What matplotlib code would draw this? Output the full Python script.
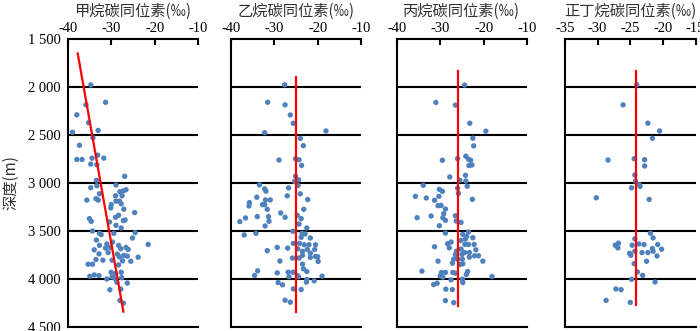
import matplotlib
matplotlib.use('Agg')
import matplotlib.pyplot as plt

plt.rcParams['font.family'] = ['Liberation Serif', 'Noto Sans CJK SC', 'DejaVu Sans']

# ---- data ----
TITLES = ['甲烷碳同位素(‰)', '乙烷碳同位素(‰)', '丙烷碳同位素(‰)', '正丁烷碳同位素(‰)']
Y_LABEL = '深度(m)'
DEPTH_TICKS = [1500, 2000, 2500, 3000, 3500, 4000, 4500]
DEPTH_LABELS = ['1 500', '2 000', '2 500', '3 000', '3 500', '4 000', '4 500']
X_TICKS = [[-40, -30, -20, -10], [-40, -30, -20, -10],
           [-40, -30, -20, -10], [-35, -30, -25, -20, -15]]

CH4_X = [-34.7, -31.3, -35.8, -37.9, -35.2, -33.0, -38.9, -34.2, -37.3, -33.1,
         -37.9, -36.7, -34.4, -31.7, -34.7, -33.3, -26.9, -33.4, -28.9, -34.7,
         -33.3, -26.6, -27.3, -28.0, -32.7, -29.0, -27.5, -35.6, -33.5, -33.0,
         -28.9, -28.1, -30.0, -27.7, -30.1, -27.1, -24.6, -28.3, -29.0, -27.2,
         -26.8, -35.0, -34.6, -30.4, -28.9, -27.7, -34.3, -32.7, -32.3, -29.4,
         -24.5, -33.4, -25.1, -31.0, -29.7, -21.5, -32.7, -31.3, -30.2, -28.3,
         -27.8, -26.6, -26.1, -33.9, -32.8, -30.7, -28.6, -28.1, -27.1, -26.3,
         -23.8, -33.5, -31.9, -29.8, -27.4, -25.5, -35.3, -34.3, -28.3, -34.9,
         -33.9, -32.8, -30.0, -29.0, -27.7, -29.8, -31.0, -29.0, -27.6, -28.7,
         -26.3, -30.3, -27.8, -28.0, -27.2]
CH4_Y = [1979, 2159, 2186, 2290, 2372, 2452, 2472, 2528, 2607, 2710,
         2755, 2755, 2741, 2741, 2803, 2810, 2930, 2972, 3021, 3049,
         3028, 3070, 3084, 3091, 3112, 3133, 3133, 3178, 3164, 3178,
         3189, 3189, 3224, 3217, 3259, 3273, 3308, 3336, 3357, 3392,
         3385, 3371, 3399, 3406, 3441, 3469, 3500, 3524, 3538, 3524,
         3517, 3594, 3573, 3636, 3615, 3640, 3650, 3678, 3671, 3650,
         3685, 3671, 3692, 3696, 3738, 3724, 3741, 3769, 3755, 3762,
         3773, 3797, 3804, 3804, 3811, 3815, 3846, 3846, 3853, 3972,
         3958, 3965, 3930, 3944, 3930, 3979, 4000, 4000, 3986, 4035,
         4042, 4112, 4105, 4224, 4252]

C2H6_X = [-27.6, -31.5, -27.5, -26.3, -25.6, -32.2, -18.1, -24.0, -23.3, -28.9,
          -25.1, -24.3, -23.7, -25.1, -24.4, -25.3, -24.5, -33.4, -32.2, -31.9,
          -26.7, -24.0, -34.0, -32.0, -30.9, -27.0, -22.3, -35.7, -35.8, -32.7,
          -32.2, -31.6, -23.2, -28.5, -27.5, -33.9, -31.3, -36.6, -31.2, -37.9,
          -32.1, -24.7, -23.8, -24.3, -22.5, -25.7, -36.9, -34.2, -23.6, -22.9,
          -23.8, -21.7, -25.6, -24.2, -23.1, -22.0, -20.5, -29.3, -26.9, -31.6,
          -24.6, -23.5, -22.4, -21.7, -20.7, -23.5, -24.3, -21.7, -20.5, -20.0,
          -28.7, -25.8, -23.5, -19.9, -23.3, -22.5, -33.8, -34.5, -29.3, -26.8,
          -25.7, -24.7, -26.6, -24.4, -19.0, -22.5, -20.8, -29.1, -28.1, -22.6,
          -25.6, -23.8, -27.5, -26.3]
C2H6_Y = [1977, 2159, 2186, 2291, 2378, 2476, 2458, 2535, 2611, 2761,
          2747, 2758, 2817, 2929, 2967, 2984, 3026, 3019, 3061, 3085,
          3051, 3113, 3148, 3176, 3176, 3134, 3172, 3204, 3239, 3225,
          3225, 3274, 3274, 3312, 3357, 3350, 3350, 3364, 3399, 3402,
          3448, 3336, 3371, 3427, 3469, 3503, 3541, 3524, 3524, 3531,
          3566, 3573, 3629, 3629, 3643, 3643, 3643, 3671, 3678, 3705,
          3685, 3712, 3692, 3730, 3692, 3754, 3782, 3775, 3765, 3768,
          3813, 3782, 3845, 3817, 3894, 3922, 3915, 3963, 3936, 3929,
          3929, 3963, 3977, 3977, 3970, 4005, 4019, 4037, 4061, 4033,
          4103, 4110, 4221, 4242]

C3H8_X = [-24.4, -31.0, -26.5, -23.2, -19.5, -22.5, -22.3, -29.5, -26.0, -24.1,
          -23.5, -23.0, -23.4, -22.7, -27.8, -24.2, -25.5, -24.1, -23.8, -33.9,
          -26.0, -30.2, -29.5, -25.8, -35.7, -33.2, -31.3, -30.3, -22.6, -29.8,
          -30.5, -28.8, -29.2, -35.3, -32.1, -29.4, -28.8, -26.5, -26.3, -25.2,
          -30.2, -28.8, -23.5, -24.8, -23.9, -22.5, -27.5, -25.2, -24.2, -23.5,
          -24.3, -28.3, -31.3, -27.9, -22.2, -26.2, -25.2, -21.8, -24.4, -23.3,
          -26.5, -25.0, -26.0, -26.9, -24.9, -23.3, -22.1, -21.2, -30.5, -20.2,
          -27.2, -25.5, -24.8, -34.2, -29.7, -28.8, -27.1, -26.5, -23.7, -30.0,
          -29.4, -24.0, -18.1, -24.9, -27.5, -24.8, -30.7, -31.5, -28.7, -27.2,
          -28.8, -26.9]
C3H8_Y = [1980, 2161, 2189, 2377, 2460, 2533, 2613, 2763, 2746, 2721,
          2752, 2763, 2819, 2812, 2937, 2920, 2972, 2979, 3034, 3024,
          3055, 3066, 3087, 3107, 3139, 3156, 3180, 3139, 3170, 3233,
          3236, 3271, 3320, 3362, 3344, 3362, 3389, 3341, 3396, 3410,
          3445, 3522, 3511, 3535, 3556, 3570, 3615, 3598, 3584, 3640,
          3640, 3633, 3664, 3675, 3640, 3709, 3689, 3696, 3724, 3724,
          3744, 3744, 3793, 3793, 3793, 3772, 3758, 3758, 3814, 3814,
          3835, 3849, 3842, 3918, 3932, 3932, 3932, 3939, 3922, 3967,
          3981, 3953, 3974, 4002, 4009, 4037, 4044, 4058, 4106, 4110,
          4225, 4246]

C4H10_X = [-24.0, -26.1, -22.3, -20.5, -21.6, -28.4, -24.4, -22.8, -22.8, -24.3,
           -24.2, -23.6, -24.8, -23.5, -30.2, -22.1, -21.9, -21.5, -24.3, -26.8,
           -27.3, -26.9, -24.7, -23.7, -22.9, -20.8, -21.6, -20.2, -24.3, -25.1,
           -24.9, -23.2, -22.3, -21.5, -20.9, -22.5, -24.4, -23.9, -23.1, -24.8,
           -21.2, -27.2, -26.4, -28.7, -25.0]
C4H10_Y = [1977, 2186, 2377, 2458, 2534, 2761, 2747, 2757, 2823, 2917,
           2980, 3018, 3050, 3035, 3154, 3171, 3523, 3572, 3582, 3627,
           3648, 3676, 3648, 3634, 3641, 3641, 3683, 3690, 3711, 3732,
           3753, 3725, 3725, 3711, 3760, 3815, 3840, 3927, 3962, 4003,
           4031, 4104, 4111, 4223, 4244]

# red trend lines: (x start, x end), (depth start, depth end)
TREND_X = [[-37.7, -27.2], [-25.0, -25.0], [-25.9, -25.9], [-24.1, -24.1]]
TREND_Y = [[1650, 4340], [1900, 4340], [1830, 4280], [1830, 4270]]

XS = [CH4_X, C2H6_X, C3H8_X, C4H10_X]
YS = [CH4_Y, C2H6_Y, C3H8_Y, C4H10_Y]

POINT_COLOR = '#4f81bd'
CJK = ['Noto Sans CJK SC', 'DejaVu Sans']

fig = plt.figure(figsize=(7.0, 3.31), dpi=100)
lefts = [67.7, 230.7, 396.7, 565.0]
width = 130.5
top_px, bot_px = 39, 327

for i in range(4):
    ax = fig.add_axes([lefts[i] / 700, (331 - bot_px) / 331,
                       width / 700, (bot_px - top_px) / 331])
    ticks = X_TICKS[i]
    ax.set_xlim(ticks[0], ticks[-1])
    ax.set_ylim(4500, 1500)

    # horizontal depth lines
    for d in DEPTH_TICKS[1:-1]:
        ax.axhline(d, color='black', linewidth=1.5, zorder=1)

    ax.scatter(XS[i], YS[i], s=15, color=POINT_COLOR, edgecolors='none', zorder=2)
    ax.plot(TREND_X[i], TREND_Y[i], color='#ff0000', linewidth=1.6, zorder=3)

    ax.xaxis.tick_top()
    ax.set_xticks(ticks)
    ax.set_xticklabels([f'-{abs(t)}' for t in ticks], fontsize=10.5)
    ax.tick_params(axis='x', direction='in', length=4, width=1.5, pad=3)

    ax.set_yticks(DEPTH_TICKS)
    if i == 0:
        ax.set_yticklabels(DEPTH_LABELS, fontsize=10.5)
        ax.set_ylabel(Y_LABEL, fontsize=11, family=CJK, labelpad=6,
                      fontweight='light', color='#333333')
    else:
        ax.set_yticklabels([])
    ax.tick_params(axis='y', length=0, pad=5)

    ax.spines['right'].set_visible(False)
    for s in ['left', 'top', 'bottom']:
        ax.spines[s].set_linewidth(1.5)

    ax.set_title(TITLES[i], fontsize=11, family=CJK, pad=4,
                 fontweight='light', color='#333333')

fig.savefig('out.png', dpi=100)
